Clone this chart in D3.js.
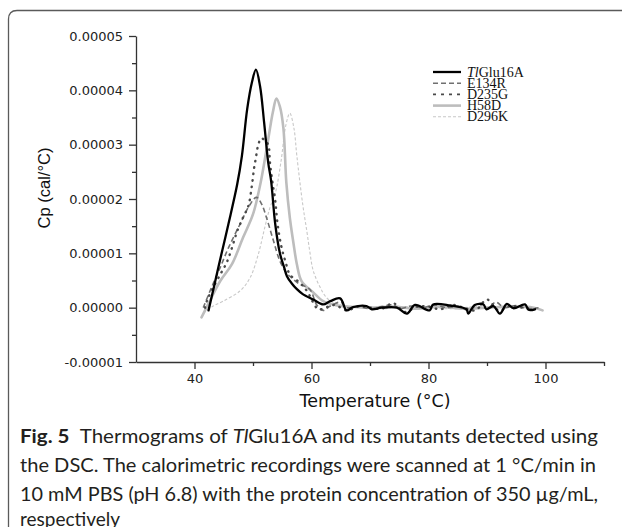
<!DOCTYPE html>
<html>
<head>
<meta charset="utf-8">
<script src="https://cdn.jsdelivr.net/npm/d3@7"></script>
<style>
  body { margin: 0; background: #fff; }
  .axis path, .axis line { stroke: #333; stroke-width: 1.3; }
  .axis text { font-family: 'DejaVu Sans', sans-serif; font-size: 13px; fill: #222; }
</style>
</head>
<body>
<svg id="dsc-view" width="622" height="527"></svg>
<script>

// Cp, in units of 1e-5 cal/°C
var tlglu16a_temp = [42.4, 43.3, 44.2, 45.8, 47.3, 48.1, 49.0, 49.8, 50.5, 51.2, 51.9, 52.6, 53.1, 53.8, 54.6, 55.3, 55.8, 56.6, 57.5, 58.5, 60.3, 62.0, 63.2, 64.9, 66.0, 67.1, 69.4, 70.3, 72.0, 74.6, 76.3, 77.7, 80.2, 80.8, 83.7, 86.5, 86.8, 87.9, 89.4, 89.9, 91.1, 92.2, 93.4, 94.5, 96.5, 97.1, 98.2];
var tlglu16a_cp = [-0.05, 0.37, 0.8, 1.54, 2.27, 2.79, 3.65, 4.14, 4.38, 4.08, 3.41, 2.67, 2.33, 1.54, 1.0, 0.75, 0.58, 0.45, 0.34, 0.25, 0.15, 0.06, 0.12, 0.17, -0.05, 0.01, 0.03, -0.03, 0.0, 0.0, -0.11, 0.05, -0.05, 0.06, 0.04, -0.03, -0.11, 0.05, 0.06, -0.03, 0.03, -0.11, 0.07, -0.01, 0.06, -0.04, -0.03];

var e134r_temp = [41.5, 42.9, 44.4, 45.8, 47.8, 49.5, 50.6, 51.5, 52.3, 53.5, 54.6, 55.8, 56.6, 58.0, 59.7, 60.9, 62.0, 63.2, 65.0, 66.0, 68.0, 70.0, 72.0, 74.0, 75.0, 77.0, 79.0, 81.0, 83.0, 85.0, 87.0, 88.5, 90.0, 91.5, 93.0, 95.0, 97.0, 98.8];
var e134r_cp = [0.0, 0.37, 0.74, 1.1, 1.54, 1.9, 2.03, 1.9, 1.66, 1.23, 0.86, 0.63, 0.55, 0.43, 0.34, 0.05, -0.05, 0.03, 0.1, 0.0, 0.02, -0.02, 0.02, 0.05, -0.02, 0.03, 0.0, 0.05, 0.0, 0.02, -0.05, 0.07, -0.02, 0.1, 0.0, 0.04, -0.02, 0.0];

var d235g_temp = [41.8, 42.1, 42.9, 44.4, 45.5, 46.4, 47.3, 48.3, 49.2, 49.8, 50.2, 50.5, 50.8, 51.4, 52.0, 52.6, 52.9, 53.3, 53.8, 54.2, 54.9, 55.6, 56.3, 58.0, 59.2, 61.2, 62.6, 64.0, 66.0, 68.0, 70.0, 72.0, 74.0, 76.0, 78.0, 80.0, 82.0, 84.0, 86.0, 88.0, 90.0, 92.0, 94.0, 96.0, 98.0];
var d235g_cp = [0.0, 0.12, 0.31, 0.61, 0.83, 1.1, 1.41, 1.66, 1.87, 2.24, 2.58, 2.76, 2.95, 3.12, 3.08, 3.0, 2.67, 2.33, 1.97, 1.54, 1.1, 0.83, 0.61, 0.46, 0.31, -0.03, 0.01, 0.05, -0.05, 0.02, 0.0, -0.02, 0.08, -0.08, 0.02, 0.02, -0.03, 0.05, 0.0, -0.05, 0.15, -0.05, 0.03, 0.0, -0.03];

var h58d_temp = [41.2, 42.6, 44.4, 46.4, 48.3, 50.0, 51.3, 52.6, 53.4, 54.0, 54.6, 55.2, 55.7, 56.3, 56.9, 57.5, 58.3, 60.3, 62.0, 64.0, 66.0, 70.0, 74.0, 78.0, 82.0, 86.0, 90.0, 94.0, 98.0, 99.5];
var h58d_cp = [-0.18, 0.12, 0.49, 0.8, 1.29, 1.72, 2.3, 3.1, 3.6, 3.85, 3.7, 3.3, 2.3, 1.65, 1.2, 0.8, 0.49, 0.28, 0.12, 0.05, 0.02, 0.0, 0.02, -0.02, 0.02, -0.02, 0.0, 0.02, 0.0, -0.05];

var d296k_temp = [41.5, 43.2, 44.9, 47.8, 49.5, 50.9, 52.0, 52.9, 53.8, 54.8, 55.6, 56.3, 57.0, 57.5, 58.5, 59.2, 59.7, 60.3, 61.5, 62.6, 64.0, 66.0, 68.0, 72.0, 76.0, 80.0, 84.0, 88.0, 92.0, 96.0, 99.0];
var d296k_cp = [-0.1, 0.03, 0.12, 0.31, 0.55, 0.98, 1.47, 1.84, 2.1, 2.7, 3.35, 3.58, 3.3, 2.79, 1.9, 1.41, 1.04, 0.68, 0.37, 0.18, 0.08, 0.03, 0.0, -0.02, 0.02, 0.0, -0.02, 0.02, 0.0, 0.02, -0.03];

var series_names = ['TlGlu16A', 'E134R', 'D235G', 'H58D', 'D296K'];

var x_ticks = [40, 60, 80, 100];
var x_minor_ticks = [50, 70, 90, 110];
var y_ticks = [-1, 0, 1, 2, 3, 4, 5];
var y_tick_labels = ['-0.00001', '0.00000', '0.00001', '0.00002', '0.00003', '0.00004', '0.00005'];
var y_minor_ticks = [-0.5, 0.5, 1.5, 2.5, 3.5, 4.5];

var caption_lines = [
  'Thermograms of ',
  'the DSC. The calorimetric recordings were scanned at 1 °C/min in',
  '10 mM PBS (pH 6.8) with the protein concentration of 350 µg/mL,',
  'respectively'
];

class DscView
{
  constructor()
  {
    this.svg = d3.select('#dsc-view');

    this.x = d3.scaleLinear().domain([30, 110]).range([136, 604]);
    this.y = d3.scaleLinear().domain([-1, 5]).range([362, 36]);

    // drawn back to front so the black trace sits on top
    this.styles = {
      'D296K':    {stroke: '#c8c8c8', width: 1.1, dash: '3,2', cap: 'butt'},
      'H58D':     {stroke: '#bdbdbd', width: 2.6, dash: null, cap: 'round'},
      'E134R':    {stroke: '#707070', width: 1.6, dash: '5,3', cap: 'butt'},
      'D235G':    {stroke: '#4a4a4a', width: 2.4, dash: '0.5,6', cap: 'round'},
      'TlGlu16A': {stroke: '#000', width: 2.3, dash: null, cap: 'round'}
    };

    this.line = d3.line()
                  .curve(d3.curveCatmullRom.alpha(0.5))
                  .x(d => this.x(d[0]))
                  .y(d => this.y(d[1]));
  }

  draw_frame()
  {
    this.svg.append('path')
            .attr('d', 'M8.5,527 L8.5,19 Q8.5,10.5 17,10.5 L622,10.5')
            .attr('fill', 'none')
            .attr('stroke', '#5a5a5a')
            .attr('stroke-width', 1.3);
  }

  draw_axes()
  {
    var y_major = d3.axisLeft(this.y)
                    .tickValues(y_ticks)
                    .tickSize(7)
                    .tickSizeOuter(0)
                    .tickPadding(6)
                    .tickFormat((d, i) => y_tick_labels[i]);

    this.svg.append('g')
            .attr('class', 'axis')
            .attr('transform', 'translate(136,0)')
            .call(y_major);

    this.svg.append('g')
            .attr('class', 'axis')
            .attr('transform', 'translate(136,0)')
            .call(d3.axisLeft(this.y).tickValues(y_minor_ticks).tickSize(4).tickFormat(''))
            .select('.domain').remove();

    var x_major = d3.axisBottom(this.x)
                    .tickValues(x_ticks)
                    .tickSize(7)
                    .tickSizeOuter(0)
                    .tickPadding(5)
                    .tickFormat(d3.format('d'));

    this.svg.append('g')
            .attr('class', 'axis')
            .attr('transform', 'translate(0,362)')
            .call(x_major);

    this.svg.append('g')
            .attr('class', 'axis')
            .attr('transform', 'translate(0,362)')
            .call(d3.axisBottom(this.x).tickValues(x_minor_ticks).tickSize(4).tickFormat(''))
            .select('.domain').remove();

    this.svg.append('text')
            .attr('x', 375)
            .attr('y', 407)
            .attr('text-anchor', 'middle')
            .attr('font-family', 'DejaVu Sans, sans-serif')
            .attr('font-size', 17.5)
            .attr('fill', '#111')
            .text('Temperature (°C)');

    this.svg.append('text')
            .attr('transform', 'translate(50,188) rotate(-90)')
            .attr('text-anchor', 'middle')
            .attr('font-family', 'Liberation Sans, Arial, sans-serif')
            .attr('font-size', 16.5)
            .attr('fill', '#111')
            .text('Cp (cal/°C)');
  }

  draw_lines()
  {
    var table = {
      'TlGlu16A': d3.zip(tlglu16a_temp, tlglu16a_cp),
      'E134R': d3.zip(e134r_temp, e134r_cp),
      'D235G': d3.zip(d235g_temp, d235g_cp),
      'H58D': d3.zip(h58d_temp, h58d_cp),
      'D296K': d3.zip(d296k_temp, d296k_cp)
    };

    for (let name in this.styles)
    {
      var s = this.styles[name];
      this.svg.append('path')
              .datum(table[name])
              .attr('fill', 'none')
              .attr('stroke', s.stroke)
              .attr('stroke-width', s.width)
              .attr('stroke-dasharray', s.dash)
              .attr('stroke-linecap', s.cap)
              .attr('stroke-linejoin', 'round')
              .attr('d', this.line);
    }
  }

  draw_legend()
  {
    var legend = this.svg.append('g')
                         .attr('transform', 'translate(433,72)');

    series_names.forEach((name, i) => {
      var s = this.styles[name];
      var row = legend.append('g').attr('transform', 'translate(0,' + (i * 11.2) + ')');

      row.append('line')
         .attr('x1', 0).attr('x2', 28)
         .attr('stroke', s.stroke)
         .attr('stroke-width', name == 'D235G' ? 1.6 : s.width)
         .attr('stroke-dasharray', name == 'D235G' ? '3,5' : s.dash);

      var label = row.append('text')
                     .attr('x', 34)
                     .attr('y', 4.5)
                     .attr('font-family', 'Liberation Serif, serif')
                     .attr('font-size', 14)
                     .attr('fill', '#111');

      if (name == 'TlGlu16A')
      {
        label.append('tspan').attr('font-style', 'italic').text('Tl');
        label.append('tspan').text('Glu16A');
      }
      else
      {
        label.text(name);
      }
    });
  }

  draw_caption()
  {
    var base = {family: 'Lato, Open Sans, sans-serif', size: 19};
    var baselines = [443, 472, 501, 526];
    var widths = [578, 576, 578, null];

    caption_lines.forEach((line, i) => {
      var t = this.svg.append('text')
                      .attr('x', 20)
                      .attr('y', baselines[i])
                      .attr('font-family', base.family)
                      .attr('font-size', base.size)
                      .attr('fill', '#231f20');

      if (widths[i])
      {
        t.attr('textLength', widths[i]).attr('lengthAdjust', 'spacingAndGlyphs');
      }

      if (i == 0)
      {
        t.append('tspan').attr('font-weight', 'bold').text('Fig. 5\u2002');
        t.append('tspan').text(line);
        t.append('tspan').attr('font-style', 'italic').text('Tl');
        t.append('tspan').text('Glu16A and its mutants detected using');
      }
      else
      {
        t.text(line);
      }
    });
  }
}

var view = new DscView();
view.draw_frame();
view.draw_axes();
view.draw_lines();
view.draw_legend();
view.draw_caption();

</script>
</body>
</html>
